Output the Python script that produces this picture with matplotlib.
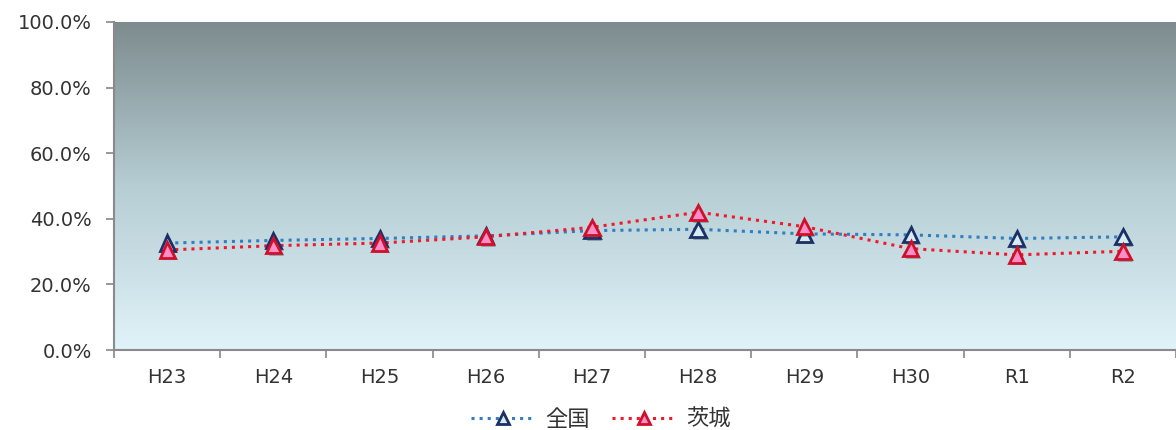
import numpy as np
import matplotlib.pyplot as plt
import matplotlib.patheffects as pe
from matplotlib.colors import LinearSegmentedColormap
from matplotlib.lines import Line2D
from matplotlib.ticker import PercentFormatter

plt.rcParams['font.family'] = ['DejaVu Sans', 'Noto Sans CJK JP']

# data (percent)
years = ['H23', 'H24', 'H25', 'H26', 'H27', 'H28', 'H29', 'H30', 'R1', 'R2']
zenkoku = [32.6, 33.4, 34.0, 34.8, 36.4, 36.8, 35.4, 35.1, 34.0, 34.5]
ibaraki = [30.5, 31.8, 32.6, 34.5, 37.4, 42.0, 37.6, 30.9, 29.0, 30.1]
series_names = ['全国', '茨城']

fig = plt.figure(figsize=(11.76, 4.30), dpi=100)
ax = fig.add_axes([0.097, 0.186, 0.903, 0.763])

x = np.arange(len(years))
ax.set_xlim(-0.5, len(years) - 0.5)
ax.set_ylim(0, 100)

# gradient background
cmap = LinearSegmentedColormap.from_list('bg', ['#e0f3f9', '#b5cdd3', '#7d8b8e'])
grad = np.linspace(0, 1, 256).reshape(-1, 1)
ax.imshow(grad, cmap=cmap, origin='lower', aspect='auto',
          extent=[-0.5, len(years) - 0.5, 0, 100], zorder=0)

shadow = [pe.SimplePatchShadow(offset=(2, -2), shadow_rgbFace='#1a2a30', alpha=0.3), pe.Normal()]

styles = [
    dict(color='#2f7fc1', markerfacecolor='#d4ecf4', markeredgecolor='#1c2f66'),
    dict(color='#f0192a', markerfacecolor='#ff8ec8', markeredgecolor='#d0102a'),
]
handles = []
for i, vals in enumerate([zenkoku, ibaraki]):
    st = styles[i]
    ax.plot(x, vals, linestyle=':', color=st['color'], linewidth=2.2, zorder=3 + i)
    ax.plot(x, vals, linestyle='none', marker='^', markersize=11,
            markerfacecolor=st['markerfacecolor'], markeredgecolor=st['markeredgecolor'],
            markeredgewidth=2.0, zorder=5 + i, path_effects=shadow)
    handles.append(Line2D([], [], linestyle=':', linewidth=2.2, marker='^', markersize=8,
                          markeredgewidth=2.0, **st))

ax.yaxis.set_major_formatter(PercentFormatter(decimals=1))
ax.set_yticks([0, 20, 40, 60, 80, 100])
ax.set_xticks(x)
ax.set_xticklabels(years)
ax.set_xticks(np.arange(-0.5, len(years)), minor=True)
ax.tick_params(axis='x', which='major', length=0, pad=13, labelsize=14, colors='#333333')
ax.tick_params(axis='x', which='minor', length=6, width=1.2, color='#888888')
ax.tick_params(axis='y', length=6, width=1.2, color='#888888', labelsize=14,
               labelcolor='#333333', pad=10)

for s in ['top', 'right']:
    ax.spines[s].set_visible(False)
for s in ['left', 'bottom']:
    ax.spines[s].set_color('#8a8a8a')
    ax.spines[s].set_linewidth(1.5)

fig.legend(handles, series_names, loc='center', bbox_to_anchor=(0.511, 0.025),
           ncol=2, frameon=False, handlelength=2.9, handletextpad=0.45,
           columnspacing=1.0, labelcolor='#333333',
           prop={'family': ['Noto Sans CJK JP'], 'size': 16})

fig.savefig('out.png', dpi=100)
